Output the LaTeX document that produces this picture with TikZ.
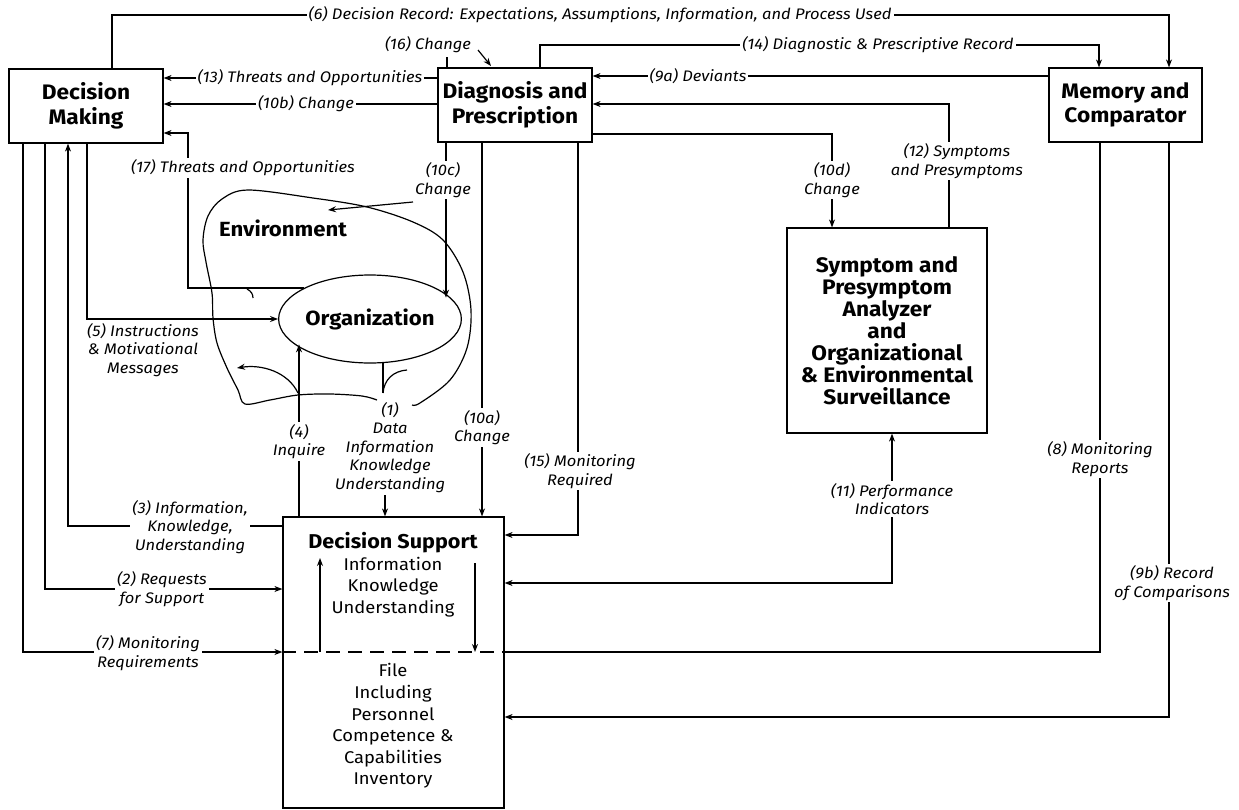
\documentclass[tikz,border=0pt]{standalone}
\usepackage{fontspec}
\setmainfont{Fira Sans}[FakeStretch=1.08]
\usetikzlibrary{arrows.meta,shapes.geometric}
\begin{document}
\begin{tikzpicture}[x=1pt,y=-1pt,line width=1.2pt,
  arr/.style={-{Stealth[length=8pt,width=6pt]}},
  biarr/.style={{Stealth[length=8pt,width=6pt]}-{Stealth[length=8pt,width=6pt]}},
  box/.style={draw,rectangle,inner sep=0pt,align=center,font=\fontsize{21}{24.5}\selectfont\bfseries},
  lbl/.style={fill=white,inner sep=2pt,align=center,font=\fontsize{15.3}{18.5}\selectfont\itshape},
  bodytext/.style={align=center,inner sep=0pt,font=\fontsize{17}{21.6}\selectfont}]
\useasboundingbox (0,0) rectangle (1239,809);

% main blocks
\node[box,minimum width=154pt,minimum height=74pt] (dm) at (86,106) {Decision\\Making};
\node[box,minimum width=154pt,minimum height=74pt] (dp) at (515,105) {Diagnosis and\\Prescription};
\node[box,minimum width=153pt,minimum height=74pt] (mc) at (1125.5,105) {Memory and\\Comparator};
\node[box,minimum width=200pt,minimum height=205pt,font=\fontsize{21}{22}\selectfont\bfseries] (sa) at (887,330.5)
  {Symptom and\\Presymptom\\Analyzer\\and\\Organizational\\\& Environmental\\Surveillance};
\node[draw,rectangle,inner sep=0pt,minimum width=221pt,minimum height=291pt] (ds) at (393.5,662.5) {};
\node[ellipse,draw,inner sep=0pt,minimum width=174pt,minimum height=88pt,font=\fontsize{20.5}{22}\selectfont\bfseries] (org) at (370,319) {Organization};

% decision support contents
\node[inner sep=0pt,font=\fontsize{20}{22}\selectfont\bfseries] (dstitle) at (393,543) {Decision Support};
\node[bodytext] (dsbody) at (393,587) {Information\\Knowledge\\Understanding};
\node[bodytext] (dsfile) at (393,726) {File\\Including\\Personnel\\Competence \&\\Capabilities\\Inventory};
\draw[dashed,dash pattern=on 14pt off 8pt] (ds.west |- 0,652) -- (ds.east |- 0,652);
\coordinate (upb) at (320,652);
\coordinate (upt) at (320,558);
\coordinate (dnt) at (475,563);
\coordinate (dnb) at (475,652);
\draw[arr] (upb) -- (upt);
\draw[arr] (dnt) -- (dnb);

% environment outline
\node[inner sep=0pt,font=\fontsize{20.5}{22}\selectfont\bfseries] (envtext) at (283,228) {Environment};
\draw plot[smooth,tension=0.55] coordinates {(377,400) (362,396) (330,394) (298,395) (270,400) (245,404)
  (238,390) (227,368) (217,343) (213,318) (212,293) (206,262) (203,240) (208,216) (222,199) (248,190)
  (313,198) (367,207) (413,222) (443,240) (463,272) (471,310) (467,348) (450,380) (420,403) (412,405)};

% connectors along the top
\draw[arr] (112,0 |- dm.north) -- (112,15) -- (1169,15) -- (1169,0 |- mc.north);
\draw[arr] (540,0 |- dp.north) -- (540,45) -- (1099,45) -- (1099,0 |- mc.north);
\coordinate (c16a) at (447,57);
\draw (c16a) -- (447,0 |- dp.north);
\coordinate (c16s) at (478,50);
\coordinate (c16e) at (491,66);
\draw[arr] (c16s) -- (c16e);
\draw[arr] (dp.west |- 0,78) -- (dm.east |- 0,78);
\draw[arr] (dp.west |- 0,104) -- (dm.east |- 0,104);
\draw[arr] (mc.west |- 0,76) -- (dp.east |- 0,76);
\draw[arr] (949,0 |- sa.north) -- (949,104) -- (dp.east |- 0,104);
\draw[arr] (dp.east |- 0,134) -- (832,134) -- (832,0 |- sa.north);

% threats and opportunities from the organization
\draw[arr] (org.155) -- (188,0 |- org.155) -- (188,133) -- (dm.east |- 0,133);
\coordinate (e17a) at (247,289);
\coordinate (e17b) at (253,298);
\draw (e17a) .. controls (251,291) and (253,294) .. (e17b);

% changes from diagnosis
\coordinate (c10c) at (446,297.6);
\draw[arr] (446,0 |- dp.south) -- (c10c);
\coordinate (env1) at (413,202);
\coordinate (env2) at (328,210);
\draw[arr] (env1) -- (env2);
\draw[arr] (482,0 |- dp.south) -- (482,0 |- ds.north);
\draw[arr] (578,0 |- dp.south) -- (578,535) -- (ds.east |- 0,535);

% memory and comparator outputs
\draw (1100,0 |- mc.south) -- (1100,652) -- (ds.east |- 0,652);
\draw[arr] (1169,0 |- mc.south) -- (1169,717) -- (ds.east |- 0,717);
\draw[biarr] (ds.east |- 0,583) -- (892,583) -- (892,0 |- sa.south);

% decision making links
\draw[arr] (23,0 |- dm.south) -- (23,652) -- (ds.west |- 0,652);
\draw[arr] (45,0 |- dm.south) -- (45,589) -- (ds.west |- 0,589);
\draw[arr] (ds.west |- 0,526) -- (68,526) -- (68,0 |- dm.south);
\draw[arr] (87,0 |- dm.south) |- (org.west);

% organization and decision support
\coordinate (c4) at (299,344.4);
\draw[arr] (299,0 |- ds.north) -- (c4);
\coordinate (fb1) at (298,393);
\coordinate (fb2) at (237,368);
\draw[arr] (fb1) .. controls (288,372) and (262,364) .. (fb2);
\coordinate (o1a) at (383,362.5);
\coordinate (o1b) at (383,393);
\draw (o1a) -- (o1b);
\coordinate (o1c) at (407,370);
\draw (o1b) .. controls (384,380) and (393,371) .. (o1c);

% labels
\node[lbl] (l6) at (600,15) {(6) Decision Record: Expectations, Assumptions, Information, and Process Used};
\node[lbl] (l14) at (878,45) {(14) Diagnostic \& Prescriptive Record};
\node[lbl,fill=none] (l16) at (428,45) {(16) Change};
\node[lbl] (l13) at (310,78) {(13) Threats and Opportunities};
\node[lbl] (l10b) at (306,104) {(10b) Change};
\node[lbl] (l17) at (243,168) {(17) Threats and Opportunities};
\node[lbl] (l9a) at (698,76) {(9a) Deviants};
\node[lbl] (l10c) at (443,180) {(10c)\\Change};
\node[lbl] (l10d) at (832,180) {(10d)\\Change};
\node[lbl] (l12) at (957,161) {(12) Symptoms\\and Presymptoms};
\node[lbl,fill=none] (l5) at (143,350) {(5) Instructions\\\& Motivational\\Messages};
\node[lbl] (l4) at (299,441.5) {(4)\\Inquire};
\node[lbl,fill=none] (l1) at (390,447.5) {(1)\\Data\\Information\\Knowledge\\Understanding};
\draw[arr] (385,0 |- l1.south) -- (385,0 |- ds.north);
\node[lbl] (l10a) at (482,427.5) {(10a)\\Change};
\node[lbl] (l15) at (580,471) {(15) Monitoring\\Required};
\node[lbl] (l3) at (190,527) {(3) Information,\\Knowledge,\\Understanding};
\node[lbl] (l2) at (162,589) {(2) Requests\\for Support};
\node[lbl] (l7) at (148,653) {(7) Monitoring\\Requirements};
\node[lbl] (l11) at (892,499) {(11) Performance\\Indicators};
\node[lbl] (l8) at (1100,459) {(8) Monitoring\\Reports};
\node[lbl] (l9b) at (1172,583) {(9b) Record\\of Comparisons};
\end{tikzpicture}
\end{document}
